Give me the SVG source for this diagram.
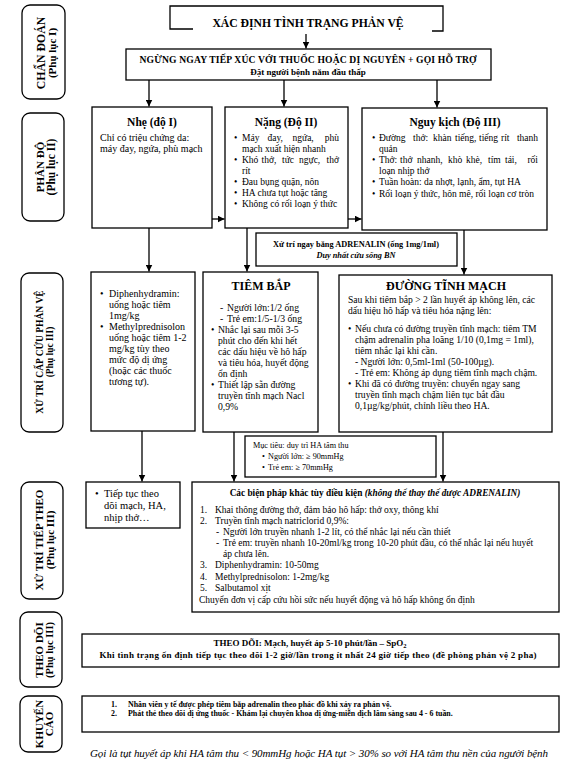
<svg xmlns="http://www.w3.org/2000/svg" width="575" height="761" viewBox="0 0 575 761">
<defs>
<style>
text{font-family:"Liberation Serif","Times New Roman",serif;fill:#000}
.box{fill:#fff;stroke:#000;stroke-width:1.3}
.lbl{fill:#fff;stroke:#000;stroke-width:1.3}
.ln{fill:none;stroke:#000;stroke-width:1.3}
.b{font-weight:bold}
.i{font-style:italic}
.t10{font-size:10px}
.t95{font-size:9.5px}
.t96{font-size:9.6px}
.vl{font-size:11px;font-weight:bold;text-anchor:middle}
.c{text-anchor:middle}
.e{text-anchor:end}
</style>
<marker id="ah" viewBox="0 0 8 8" refX="8" refY="4" markerWidth="7" markerHeight="7" markerUnits="userSpaceOnUse" orient="auto">
<path d="M0,0 L8,4 L0,8 z" fill="#000"/>
</marker>
<marker id="oh" viewBox="0 0 8 8" refX="8" refY="4" markerWidth="8" markerHeight="8" markerUnits="userSpaceOnUse" orient="auto">
<path d="M0,0 L8,4 L0,8" fill="none" stroke="#000" stroke-width="1"/>
</marker>
</defs>
<rect width="575" height="761" fill="#fff"/>

<!-- left section labels -->
<g id="lbl-chandoan">
<rect class="lbl" x="22" y="5" width="43" height="94" rx="8"/>
<text class="vl" transform="translate(45,53) rotate(-90)" style="font-size:11.8px">CHẨN ĐOÁN</text>
<text class="vl" transform="translate(56,53) rotate(-90)">(Phụ lục I)</text>
</g>
<g id="lbl-phando">
<rect class="lbl" x="22" y="113" width="42" height="108" rx="8"/>
<text class="vl" transform="translate(44,167) rotate(-90)">PHÂN ĐỘ</text>
<text class="vl" transform="translate(55,167) rotate(-90)" style="font-size:11.5px">(Phụ lục II)</text>
</g>
<g id="lbl-xutricapcuu">
<rect class="lbl" x="21" y="273" width="42" height="159" rx="8"/>
<text class="vl" transform="translate(43,352) rotate(-90)" style="font-size:9.5px">XỬ TRÍ CẤP CỨU PHẢN VỆ</text>
<text class="vl" transform="translate(53,352) rotate(-90)" style="font-size:9.5px">(Phụ lục III)</text>
</g>
<g id="lbl-xutritiep">
<rect class="lbl" x="21" y="482" width="42" height="117" rx="8"/>
<text class="vl" transform="translate(43,540) rotate(-90)">XỬ TRÍ TIẾP THEO</text>
<text class="vl" transform="translate(54,540) rotate(-90)">(Phụ lục III)</text>
</g>
<g id="lbl-theodoi">
<rect class="lbl" x="20" y="612" width="42" height="75" rx="8"/>
<text class="vl" transform="translate(43,650) rotate(-90)">THEO DÕI</text>
<text class="vl" transform="translate(53,650) rotate(-90)" style="font-size:10.5px">(Phụ lục III)</text>
</g>
<g id="lbl-khuyencao">
<rect class="lbl" x="20" y="696" width="42" height="56" rx="8"/>
<text class="vl" transform="translate(43,724) rotate(-90)">KHUYẾN</text>
<text class="vl" transform="translate(53,724) rotate(-90)">CÁO</text>
</g>

<!-- connectors -->
<g id="connectors">
<line class="ln" x1="306" y1="34" x2="306" y2="48.5" marker-end="url(#ah)"/>
<line class="ln" x1="149" y1="80" x2="149" y2="106.5" marker-end="url(#ah)"/>
<line class="ln" x1="284" y1="80" x2="284" y2="106.5" marker-end="url(#ah)"/>
<line class="ln" x1="437" y1="80" x2="437" y2="107.5" marker-end="url(#ah)"/>
<line class="ln" x1="212" y1="219" x2="224.5" y2="219" marker-end="url(#ah)"/>
<line class="ln" x1="226" y1="219" x2="346" y2="219" stroke-dasharray="4,3" marker-end="url(#oh)"/>
<line class="ln" x1="348" y1="219" x2="361.5" y2="219" marker-end="url(#ah)"/>
<line class="ln" x1="149" y1="228" x2="149" y2="271.5" marker-end="url(#ah)"/>
<line class="ln" x1="247" y1="228" x2="247" y2="271.5" marker-end="url(#ah)"/>
<line class="ln" x1="464" y1="230" x2="464" y2="274.5" marker-end="url(#ah)"/>
<line class="ln" x1="142" y1="431" x2="142" y2="481.5" marker-end="url(#ah)"/>
<line class="ln" x1="234" y1="432" x2="234" y2="481.5" marker-end="url(#ah)"/>
<line class="ln" x1="443" y1="432" x2="443" y2="481.5" marker-end="url(#ah)"/>
</g>

<!-- top -->
<g id="n-xacdinh">
<path class="ln" d="M193,29 H170 V6 H443 V31 H432"/>
<text class="b c" x="308" y="27" style="font-size:11.7px">XÁC ĐỊNH TÌNH TRẠNG PHẢN VỆ</text>
</g>
<g id="n-ngungngay">
<rect class="box" x="126" y="49" width="365" height="31"/>
<text class="b c" x="308" y="63" style="font-size:9.6px" textLength="337">NGỪNG NGAY TIẾP XÚC VỚI THUỐC HOẶC DỊ NGUYÊN + GỌI HỖ TRỢ</text>
<text class="b c" x="308" y="74.5" style="font-size:9px">Đặt  người bệnh nằm đầu thấp</text>
</g>

<!-- grading -->
<g id="n-nhe">
<rect class="box" x="92" y="107" width="120" height="121"/>
<text class="b c" x="152" y="126" style="font-size:11.5px">Nhẹ (độ I)</text>
<text class="t10" x="100" y="141">Chỉ có triệu chứng da:</text>
<text class="t10" x="100" y="152">máy đay, ngứa, phù mạch</text>
</g>
<g id="n-nang">
<rect class="box" x="225" y="107" width="123" height="121"/>
<text class="b c" x="286" y="126" style="font-size:11.5px">Nặng (Độ II)</text>
<g class="t95">
<text x="234" y="141">•<tspan x="242">Máy</tspan><tspan x="267.5">đay,</tspan><tspan x="292.5">ngứa,</tspan></text>
<text class="e" x="339" y="141">phù</text>
<text x="242" y="152">mạch xuất hiện nhanh</text>
<text x="234" y="163">•<tspan x="242">Khó</tspan><tspan x="261.5">thở,</tspan><tspan x="282">tức</tspan><tspan x="299">ngực,</tspan></text>
<text class="e" x="339" y="163">thở</text>
<text x="242" y="174">rít</text>
<text x="234" y="185">•<tspan x="242">Đau bụng quặn, nôn</tspan></text>
<text x="234" y="196">•<tspan x="242">HA chưa tụt hoặc tăng</tspan></text>
<text x="234" y="207">•<tspan x="242">Không có rối loạn ý thức</tspan></text>
</g>
</g>
<g id="n-nguykich">
<rect class="box" x="362" y="108" width="185" height="122"/>
<text class="b c" x="455" y="126" style="font-size:11.5px">Nguy kịch (Độ  III)</text>
<g class="t95">
<text x="372" y="141">•<tspan x="379">Đường</tspan><tspan x="413">thở:</tspan><tspan x="433">khàn</tspan><tspan x="455">tiếng,</tspan><tspan x="479">tiếng</tspan><tspan x="501">rít</tspan></text>
<text class="e" x="538" y="141">thanh</text>
<text x="379" y="152">quản</text>
<text x="372" y="163">•<tspan x="379">Thở:</tspan><tspan x="400">thở</tspan><tspan x="417">nhanh,</tspan><tspan x="448">khò</tspan><tspan x="466">khè,</tspan><tspan x="488">tím</tspan><tspan x="505">tái,</tspan></text>
<text class="e" x="538" y="163">rối</text>
<text x="379" y="174">loạn nhịp thở</text>
<text x="372" y="185">•<tspan x="379">Tuần hoàn: da nhợt, lạnh, ẩm, tụt HA</tspan></text>
<text x="372" y="197">•<tspan x="379">Rối loạn ý thức, hôn mê, rối loạn cơ tròn</tspan></text>
</g>
</g>

<!-- emergency -->
<g id="n-adrenalin">
<rect class="box" x="256" y="233" width="201" height="33"/>
<text class="b c" x="356" y="247" style="font-size:8.3px">Xử  trí ngay bằng ADRENALIN (ống 1mg/1ml)</text>
<text class="b i c" x="356" y="258" style="font-size:8.3px">Duy nhất cứu sống BN</text>
</g>
<g id="n-diphen">
<rect class="box" x="91" y="272" width="104" height="159"/>
<g class="t10">
<text x="100" y="297">•<tspan x="109">Diphenhydramin:</tspan></text>
<text x="109" y="308">uống hoặc tiêm</text>
<text x="109" y="319">1mg/kg</text>
<text x="100" y="330">•<tspan x="109">Methylprednisolon</tspan></text>
<text x="109" y="341">uống hoặc tiêm 1-2</text>
<text x="109" y="352">mg/kg tùy theo</text>
<text x="109" y="363">mức độ dị ứng</text>
<text x="109" y="374">(hoặc các thuốc</text>
<text x="109" y="385">tương tự).</text>
</g>
</g>
<g id="n-tiembap">
<rect class="box" x="203" y="272" width="115" height="160"/>
<text class="b c" x="261" y="290" style="font-size:12px">TIÊM BẮP</text>
<g style="font-size:9.7px">
<text x="220" y="311">-<tspan x="227">Người lớn:1/2 ống</tspan></text>
<text x="220" y="322">-<tspan x="227">Trẻ em:1/5-1/3 ống</tspan></text>
<text x="211" y="333">•<tspan x="218">Nhắc lại sau mỗi 3-5</tspan></text>
<text x="218" y="344">phút cho đến khi hết</text>
<text x="218" y="355">các dấu hiệu về hô hấp</text>
<text x="218" y="366">và tiêu hóa, huyết động</text>
<text x="218" y="377">ổn định</text>
<text x="211" y="388">•<tspan x="218">Thiết lập sẵn đường</tspan></text>
<text x="218" y="399">truyền tĩnh mạch Nacl</text>
<text x="218" y="410">0,9%</text>
</g>
</g>
<g id="n-tinhmach">
<rect class="box" x="339" y="275" width="213" height="157"/>
<text class="b c" x="446" y="290" style="font-size:12px">ĐƯỜNG TĨNH MẠCH</text>
<g class="t96">
<text x="348" y="303">Sau khi tiêm bắp &gt; 2 lần huyết áp không lên, các</text>
<text x="348" y="314">dấu hiệu hô hấp và tiêu hóa nặng lên:</text>
<text x="348" y="332">•<tspan x="355">Nếu chưa có đường truyền tĩnh mạch: tiêm TM</tspan></text>
<text x="355" y="343">chậm adrenalin pha loãng 1/10 (0,1mg = 1ml),</text>
<text x="355" y="354">tiêm nhắc lại khi cần.</text>
<text x="355" y="365">- Người lớn: 0,5ml-1ml (50-100µg).</text>
<text x="355" y="376">- Trẻ em: Không áp dụng tiêm tĩnh mạch chậm.</text>
<text x="348" y="387">•<tspan x="355">Khi đã có đường truyền: chuyển ngay sang</tspan></text>
<text x="355" y="398">truyền tĩnh mạch chậm liên tục bắt đầu</text>
<text x="355" y="409">0,1µg/kg/phút, chỉnh liều theo HA.</text>
</g>
</g>

<!-- follow-up -->
<g id="n-muctieu">
<rect class="box" x="245" y="436" width="191" height="41"/>
<g style="font-size:8.2px">
<text x="253" y="448">Mục tiêu: duy trì HA tâm thu</text>
<text x="262" y="459">•<tspan x="268">Người lớn: ≥ 90mmHg</tspan></text>
<text x="262" y="470">•<tspan x="268">Trẻ em: ≥ 70mmHg</tspan></text>
</g>
</g>
<g id="n-tieptuc">
<rect class="box" x="86" y="482" width="94" height="46"/>
<g style="font-size:10.5px">
<text x="95" y="497">•<tspan x="104">Tiếp tục theo</tspan></text>
<text x="104" y="509">dõi mạch, HA,</text>
<text x="104" y="521">nhịp thở…</text>
</g>
</g>
<g id="n-bienphap">
<rect class="box" x="192" y="482" width="367" height="130"/>
<text class="b c" x="375" y="496" style="font-size:9.3px">Các biện pháp khác tùy điều kiện <tspan class="i">(không thể thay thế được ADRENALIN)</tspan></text>
<g class="t95">
<text x="200" y="513">1.<tspan x="215">Khai thông đường thở, đảm bảo hô hấp: thở oxy, thông khí</tspan></text>
<text x="200" y="524">2.<tspan x="215">Truyền tĩnh mạch natriclorid 0,9%:</tspan></text>
<text x="216" y="535">-<tspan x="223">Người lớn truyền nhanh 1-2 lít, có thể nhắc lại nếu cần thiết</tspan></text>
<text x="216" y="546">-<tspan x="223">Trẻ em: truyền nhanh 10-20ml/kg trong 10-20 phút đầu, có thể nhắc lại nếu huyết</tspan></text>
<text x="223" y="557">áp chưa lên.</text>
<text x="200" y="568">3.<tspan x="215">Diphenhydramin: 10-50mg</tspan></text>
<text x="200" y="580">4.<tspan x="215">Methylprednisolon: 1-2mg/kg</tspan></text>
<text x="200" y="591">5.<tspan x="215">Salbutamol xịt</tspan></text>
<text x="199" y="603">Chuyển đơn vị cấp cứu hồi sức nếu huyết động và hô hấp không ổn định</text>
</g>
</g>

<!-- monitoring -->
<g id="n-theodoi">
<rect class="box" x="82" y="634" width="477" height="33"/>
<text class="b c" x="310" y="646" style="font-size:9px">THEO DÕI: Mạch, huyết áp 5-10 phút/lần – SpO<tspan style="font-size:6.5px" dy="2">2</tspan></text>
<text class="b c" x="318" y="658" style="font-size:9px" textLength="437">Khi tình trạng ổn định tiếp tục theo dõi 1-2 giờ/lần trong ít nhất 24 giờ tiếp theo (đề phòng phản vệ 2 pha)</text>
</g>

<!-- recommendations -->
<g id="n-khuyencao">
<rect class="box" x="82" y="696" width="477" height="36"/>
<g class="b" style="font-size:7.9px">
<text x="111" y="707">1.<tspan x="128">Nhân viên y tế được phép tiêm bắp adrenalin theo phác đồ khi xảy ra phản vệ.</tspan></text>
<text x="111" y="716">2.<tspan x="128">Phát thẻ theo dõi dị ứng thuốc - Khám lại chuyên khoa dị ứng-miễn dịch lâm sàng sau 4 - 6 tuần.</tspan></text>
</g>
</g>

<text class="i" x="90" y="757" style="font-size:11px" textLength="458">Gọi là tụt huyết áp khi HA tâm thu &lt; 90mmHg hoặc HA tụt &gt; 30% so với HA tâm thu nền của người bệnh</text>
</svg>
